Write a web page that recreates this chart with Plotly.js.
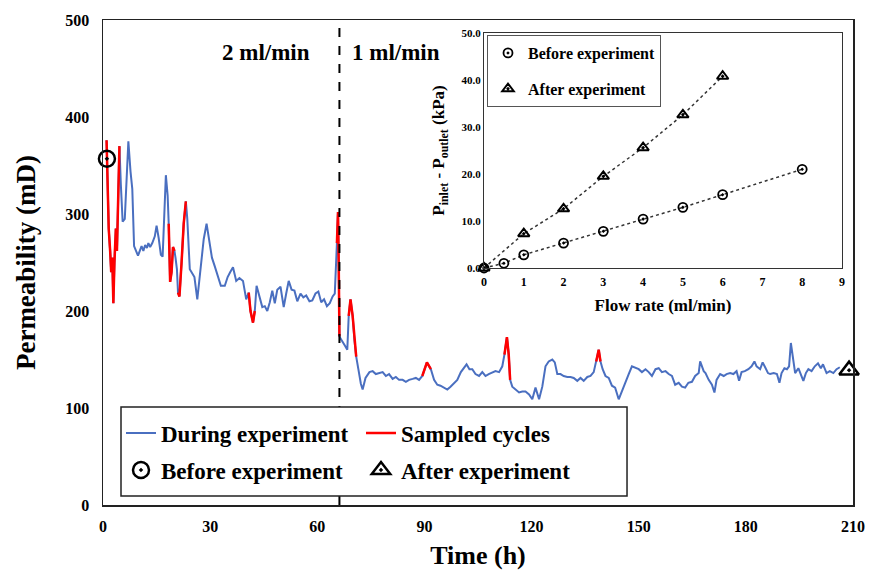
<!DOCTYPE html>
<html><head><meta charset="utf-8">
<script src="https://cdn.plot.ly/plotly-3.0.1.min.js"></script>
<style>html,body{margin:0;padding:0;background:#fff}</style>
</head><body><div id="chart" style="width:869px;height:574px"></div>
<script>
const timeH = [1.0,1.3,1.6,2.0,2.3,2.6,2.9,3.2,3.6,3.9,4.2,4.6,5.0,5.5,6.1,6.6,7.1,7.7,8.2,8.7,9.3,9.8,10.3,10.8,11.3,11.8,12.3,12.7,13.2,13.8,14.5,15.0,15.6,16.2,16.7,17.2,17.6,18.1,18.4,18.8,19.2,19.6,20.0,20.3,20.7,21.0,21.4,22.0,22.6,23.2,23.6,24.3,25.0,25.6,26.4,27.2,28.2,29.0,29.7,30.5,31.3,32.2,33.0,34.1,34.9,35.6,36.4,37.3,38.2,39.2,40.1,40.8,41.3,42.0,42.5,43.0,43.8,44.6,45.3,46.0,46.7,47.4,48.1,48.8,49.7,50.6,51.3,52.0,52.8,53.6,54.4,55.3,56.1,56.9,57.8,58.6,59.5,60.3,61.1,61.9,62.7,63.5,64.3,64.9,65.5,65.8,66.0,66.2,66.6,67.2,67.8,68.4,68.8,69.3,69.9,70.4,70.9,71.5,72.2,72.7,73.5,74.6,75.5,76.4,77.4,78.3,79.2,80.1,81.1,82.0,82.9,83.9,84.8,85.7,86.7,87.6,88.5,89.4,90.7,91.8,92.7,93.6,94.5,95.5,96.4,97.3,98.3,99.2,100.2,101.1,101.8,102.6,103.4,104.3,105.3,106.2,107.1,108.0,109.0,109.9,110.9,111.8,112.4,113.1,113.6,114.0,114.6,115.5,116.5,117.4,118.3,119.3,120.2,121.1,122.1,123.0,123.9,124.8,125.8,126.5,127.2,128.1,129.0,130.0,130.9,131.8,132.8,133.7,134.6,135.6,136.5,137.4,138.1,138.8,139.3,139.9,140.7,141.6,142.5,143.4,144.4,145.3,146.3,147.2,148.1,149.1,150.0,150.9,151.9,152.8,153.7,154.7,155.6,156.5,157.5,158.4,159.3,160.2,161.2,162.1,163.0,163.9,164.9,165.8,166.8,167.2,167.7,168.2,168.7,169.6,170.5,171.2,171.8,172.8,173.8,174.6,175.6,176.5,177.4,178.1,178.8,179.7,180.7,181.6,182.4,183.0,184.0,184.7,185.4,186.2,186.8,187.8,188.7,189.4,190.0,190.8,191.5,192.1,192.6,193.2,193.8,194.7,195.4,196.1,196.8,197.5,198.4,199.3,200.2,201.0,201.6,202.6,203.5,204.5,205.4,206.3];
const permeability = [376,330,285,262,240,255,208,250,285,262,300,370,330,292,295,330,375,344,326,267,262,257,262,267,262,268,265,270,266,270,277,288,275,258,256,300,340,319,290,230,240,266,262,255,243,219,215,250,290,313,295,243,238,235,212,243,274,290,275,255,246,236,226,226,235,240,245,231,234,231,212,219,200,188,200,226,215,204,205,200,209,221,208,222,225,204,218,231,222,221,210,218,214,216,210,211,218,220,209,212,205,208,215,218,270,302,250,174,171,168,164,160,195,212,195,170,153,140,125,119,131,137,138,135,136,137,133,135,130,132,129,129,127,129,130,131,129,133,147,140,129,124,123,121,119,122,126,129,137,142,145,140,140,135,133,137,133,135,137,138,137,143,155,173,155,129,122,119,116,117,117,114,109,121,109,122,143,148,150,147,135,135,133,132,132,131,128,131,128,132,133,137,148,160,148,140,133,131,123,121,109,118,128,135,143,141,140,137,140,137,133,140,141,137,138,135,133,124,126,122,121,126,127,133,136,148,143,138,136,129,124,116,129,135,133,135,136,135,138,128,137,138,140,143,148,143,140,147,142,136,135,136,135,126,136,141,140,143,167,150,136,141,135,128,136,140,138,143,146,141,145,136,138,136,140,142];
const sampledRanges = [[1.0,4.6],[18.4,20.0],[20.9,23.2],[40.5,42.6],[65.2,66.3],[68.6,71.0],[89.0,92.0],[112.0,114.1],[137.8,139.5]];
const beforeTime = [1.1];
const beforePerm = [357];
const afterTime = [208.9];
const afterPerm = [139];
const rateLabels = ['2 ml/min','1 ml/min'];
const rateLabelTime = [45.6, 82.0];
const switchTime = 66.2;

const flowBefore = [0,0.5,1,2,3,4,5,6,8];
const dpBefore = [0,1.0,2.8,5.3,7.8,10.4,12.9,15.6,21.0];
const flowAfter = [0,1,2,3,4,5,6];
const dpAfter = [0,7.3,12.6,19.5,25.6,32.6,40.8];

const mainXTicks = [0,30,60,90,120,150,180,210];
const mainYTicks = [0,100,200,300,400,500];
const insetXTicks = [0,1,2,3,4,5,6,7,8,9];
const insetYTicks = [0,10,20,30,40,50];

const F = 'Liberation Serif';
const inRange = t => sampledRanges.some(r => t >= r[0] && t <= r[1]);
const sampledPerm = permeability.map((v,i) => inRange(timeH[i]) ? v : null);

const traces = [
  {x: timeH, y: permeability, type:'scatter', mode:'lines', name:'During experiment',
   line:{color:'#4a6fc0', width:2}, legend:'legend'},
  {x: timeH, y: sampledPerm, type:'scatter', mode:'lines', name:'Sampled cycles',
   line:{color:'#ff0000', width:2.5}, connectgaps:false, legend:'legend'},
  {x: beforeTime, y: beforePerm, type:'scatter', mode:'markers', name:'Before experiment',
   marker:{symbol:'circle-open-dot', size:16, color:'#000', line:{width:2.5, color:'#000'}}, cliponaxis:false, legend:'legend3'},
  {x: afterTime, y: afterPerm, type:'scatter', mode:'markers', name:'After experiment',
   marker:{symbol:'triangle-up-open-dot', size:17, color:'#000', line:{width:2.5, color:'#000'}}, cliponaxis:false, legend:'legend3'},
  {x: flowBefore, y: dpBefore, xaxis:'x2', yaxis:'y2', type:'scatter', mode:'lines', showlegend:false,
   line:{color:'#333', width:1.5, dash:'dot'}},
  {x: flowAfter, y: dpAfter, xaxis:'x2', yaxis:'y2', type:'scatter', mode:'lines', showlegend:false,
   line:{color:'#333', width:1.5, dash:'dot'}},
  {x: flowBefore, y: dpBefore, xaxis:'x2', yaxis:'y2', type:'scatter', mode:'markers', name:'Before experiment',
   legendgroup:'b', marker:{symbol:'circle-open-dot', size:9, color:'#000', line:{width:1.8, color:'#000'}}, cliponaxis:false, legend:'legend2'},
  {x: flowAfter, y: dpAfter, xaxis:'x2', yaxis:'y2', type:'scatter', mode:'markers', name:'After experiment',
   legendgroup:'a', marker:{symbol:'triangle-up-open-dot', size:10, color:'#000', line:{width:2, color:'#000'}}, cliponaxis:false, legend:'legend2'}
];

const rowLegend = (yc) => ({x:0.024, y:yc, xanchor:'left', yanchor:'middle', orientation:'h',
    entrywidth:195, itemwidth:30, bgcolor:'rgba(0,0,0,0)', borderwidth:0,
    font:{family:F, size:23, weight:'bold'}});

const layout = {
  width:869, height:574,
  margin:{l:103, r:16, t:20, b:69},
  paper_bgcolor:'#fff', plot_bgcolor:'#fff',
  font:{family:F, size:16, color:'#000', weight:'bold'},
  xaxis:{domain:[0,1], range:[0,210], tickvals:mainXTicks, showgrid:false, zeroline:false,
    showline:true, mirror:true, linecolor:'#222', linewidth:1.5, ticks:'', ticklabelstandoff:6,
    tickfont:{family:F, size:16, weight:'bold'},
    title:{text:'Time (h)', font:{family:F, size:26, weight:'bold'}, standoff:12}},
  yaxis:{domain:[0,1], range:[0,500], tickvals:mainYTicks, showgrid:false, zeroline:false,
    showline:true, mirror:true, linecolor:'#222', linewidth:1.5, ticks:'', ticklabelstandoff:9,
    tickfont:{family:F, size:16, weight:'bold'},
    title:{text:'Permeability (mD)', font:{family:F, size:27, weight:'bold'}, standoff:22}},
  xaxis2:{domain:[0.508,0.9853], anchor:'y2', range:[0,9], tickvals:insetXTicks, showgrid:false, zeroline:false,
    showline:true, mirror:true, linecolor:'#333', linewidth:1, ticks:'', ticklabelstandoff:3,
    tickfont:{family:F, size:12, weight:'bold'},
    title:{text:'Flow rate (ml/min)', font:{family:F, size:17, weight:'bold'}, standoff:10}},
  yaxis2:{domain:[0.4887,0.9732], anchor:'x2', range:[0,50], tickvals:insetYTicks, tickformat:'.1f', showgrid:false, zeroline:false,
    showline:true, mirror:true, linecolor:'#333', linewidth:1, ticks:'',
    tickfont:{family:F, size:11, weight:'bold'},
    title:{text:'P<sub>inlet</sub> - P<sub>outlet</sub> (kPa)', font:{family:F, size:17, weight:'bold'}, standoff:12}},
  legend: rowLegend(0.1485),
  legend3: rowLegend(0.0722),
  legend2:{x:0.512, y:0.969, xanchor:'left', yanchor:'top', traceorder:'grouped', tracegroupgap:12,
    bgcolor:'#fff', bordercolor:'#555', borderwidth:1, itemwidth:30,
    font:{family:F, size:16, weight:'bold'}},
  shapes:[
    {type:'line', xref:'x', yref:'y', x0:switchTime, x1:switchTime, y0:0, y1:500,
     line:{color:'#000', width:2, dash:'dash'}, layer:'above'},
    {type:'rect', xref:'paper', yref:'paper', x0:0.024, x1:0.6987, y0:0.0186, y1:0.202,
     fillcolor:'#fff', line:{color:'#222', width:1.5}, layer:'above'}
  ],
  annotations: rateLabels.map((s,i)=>({text:s, x:rateLabelTime[i], y:466, xref:'x', yref:'y',
    showarrow:false, font:{family:F, size:23, weight:'bold', color:'#000'}}))
};

Plotly.newPlot('chart', traces, layout, {displayModeBar:false, staticPlot:true});
</script></body></html>
